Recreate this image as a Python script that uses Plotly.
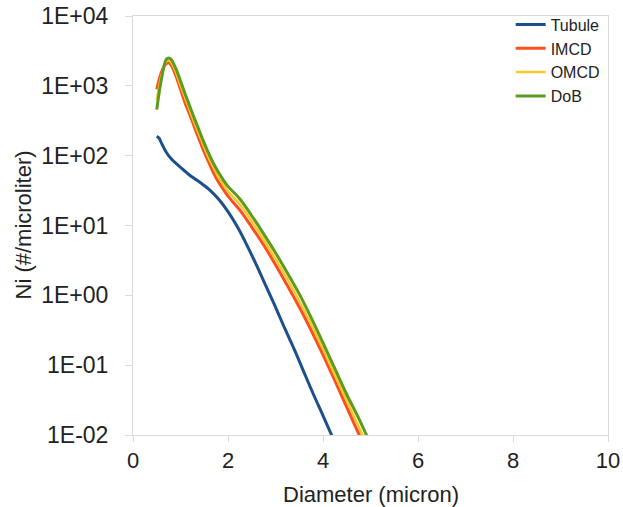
import plotly.graph_objects as go

# Diameter (micron) sample points
x_tubule = [0.5, 0.55, 0.6, 0.7, 0.8, 0.9, 1.0, 1.2, 1.4, 1.6, 1.8, 2.0, 2.2, 2.4,
            2.6, 2.8, 3.0, 3.2, 3.4, 3.6, 3.8, 4.0, 4.2, 4.4]
y_tubule = [190, 178, 151, 112, 91, 78, 68, 52, 42, 33, 24, 15.8, 9.5, 5.2,
            2.7, 1.35, 0.68, 0.33, 0.166, 0.079, 0.038, 0.019, 0.0093, 0.0045]

x_main = [0.5, 0.6, 0.7, 0.75, 0.8, 0.9, 1.0, 1.1, 1.2, 1.3, 1.4, 1.5, 1.6, 1.7,
          1.8, 1.9, 2.0, 2.25, 2.5, 2.75, 3.0, 3.25, 3.5, 3.75, 4.0, 4.25, 4.5,
          4.75, 5.0]
y_imcd = [890, 1580, 2090, 2140, 2000, 1410, 890, 560, 380, 250, 166, 112, 79, 56,
          42, 33, 26.3, 16.6, 9.5, 5.25, 2.75, 1.38, 0.68, 0.316, 0.141, 0.060, 0.025,
          0.0105, 0.0044]
y_omcd = [630, 1410, 2240, 2340, 2190, 1580, 1020, 660, 436, 288, 195, 132, 91, 66,
          49, 39, 30.9, 20, 11.5, 6.3, 3.3, 1.7, 0.83, 0.39, 0.17, 0.072, 0.031,
          0.0132, 0.0056]
y_dob = [457, 1260, 2400, 2510, 2400, 1780, 1175, 760, 500, 331, 224, 151, 105, 76,
         58, 45, 36.3, 24, 13.8, 7.6, 4.07, 2.09, 1.05, 0.479, 0.209, 0.089, 0.038,
         0.0174, 0.0074]

y_tickvals = [0.01, 0.1, 1, 10, 100, 1000, 10000]
y_ticktext = ["1E-02", "1E-01", "1E+00", "1E+01", "1E+02", "1E+03", "1E+04"]
x_tickvals = [0, 2, 4, 6, 8, 10]
x_title = "Diameter (micron)"
y_title = "Ni (#/microliter)"

series = [
    ("Tubule", x_tubule, y_tubule, "#1c4f8c", 3),
    ("IMCD", x_main, y_imcd, "#fb4f1e", 3),
    ("OMCD", x_main, y_omcd, "#ffc628", 2.5),
    ("DoB", x_main, y_dob, "#5b9c20", 3),
]

fig = go.Figure()
for name, xs, ys, color, w in series:
    fig.add_trace(go.Scatter(x=xs, y=ys, name=name, mode="lines",
                             line=dict(color=color, width=w, shape="spline", smoothing=1.0)))

font_family = "Liberation Sans, Arial, sans-serif"
axis_grey = "#d9d9d9"
text_col = "#222222"

fig.update_layout(
    width=623, height=507,
    margin=dict(l=133, r=15, t=16, b=72, autoexpand=False),
    paper_bgcolor="white", plot_bgcolor="white",
    font=dict(family=font_family, color=text_col),
    showlegend=True,
    legend=dict(x=0.993, y=1.02, xanchor="right", yanchor="top",
                font=dict(size=16, family=font_family, color=text_col),
                bgcolor="rgba(0,0,0,0)", tracegroupgap=0, itemwidth=30),
    xaxis=dict(range=[0, 10], tickvals=x_tickvals, showgrid=False, zeroline=False,
               showline=True, linecolor=axis_grey, linewidth=1, mirror=True,
               ticks="outside", ticklen=6, tickcolor=axis_grey, automargin=False,
               tickfont=dict(size=22)),
    yaxis=dict(type="log", range=[-2, 4], tickvals=y_tickvals, ticktext=y_ticktext,
               showgrid=False, zeroline=False, automargin=False,
               showline=True, linecolor=axis_grey, linewidth=1, mirror=True,
               ticks="outside", ticklen=7, tickcolor=axis_grey, ticklabelstandoff=12,
               tickfont=dict(size=23)),
    annotations=[
        dict(text=x_title, xref="paper", yref="paper", x=0.5, y=0, yshift=-59,
             xanchor="center", yanchor="middle", showarrow=False,
             font=dict(size=22, family=font_family, color=text_col)),
        dict(text=y_title, xref="paper", yref="paper", x=0, y=0.5, xshift=-110,
             xanchor="center", yanchor="middle", textangle=-90, showarrow=False,
             font=dict(size=22, family=font_family, color=text_col)),
    ],
)

# remove the browser's default 8px body margin so the figure fills the window
fig.write_html("out.html", config={"displayModeBar": False},
               post_script="document.body.style.margin='0';document.body.style.overflow='hidden';")
